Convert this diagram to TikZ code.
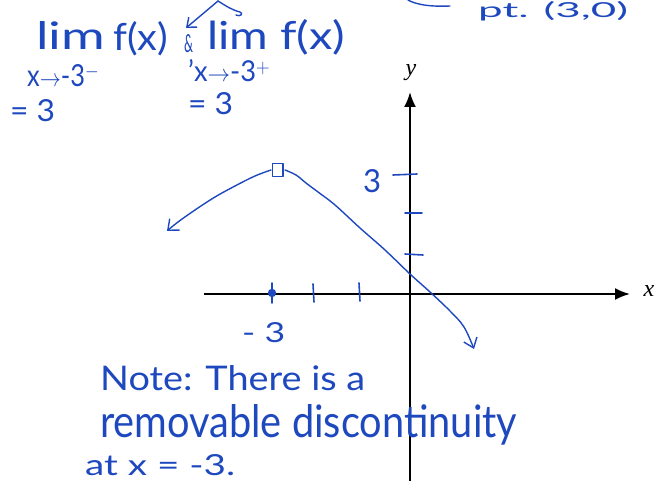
\documentclass[tikz,border=0pt]{standalone}
\usepackage{fontspec}
\setmainfont{Lato}
\newfontfamily\axisfont{Liberation Serif}
\usetikzlibrary{arrows.meta}
\definecolor{ink}{RGB}{30,72,190}
\newcommand{\hw}[3]{\resizebox{#1pt}{#2pt}{#3}}
\tikzset{
  hand/.style={text=ink, inner sep=0pt, anchor=base west, font=\fontsize{30}{32}\selectfont},
  curve/.style={draw=ink, line width=1.4pt, line cap=round, line join=round},
  axis/.style={draw=black, line width=2pt, -{Latex[length=15pt,width=12pt]}},
  tick/.style={draw=ink, line width=1.6pt, line cap=round},
  axlabel/.style={inner sep=0pt, font=\axisfont\itshape\fontsize{24}{26}\selectfont},
}
\begin{document}
\begin{tikzpicture}[x=1pt,y=-1pt]
\useasboundingbox (0,0) rectangle (659,481);
% axes
\coordinate (xl) at (204,294);
\coordinate (xr) at (630,294);
\coordinate (yb) at (410,481);
\coordinate (yt) at (410,92);
\draw[axis] (xl) -- (xr);
\draw[axis] (yb) -- (yt);
\node[axlabel, anchor=base] (xlab) at (649,297) {x};
\node[axlabel, anchor=base] (ylab) at (411,76) {y};
% ticks y
\draw[tick] (393,175) -- (417,174);
\draw[tick] (405,213) -- (422,213);
\draw[tick] (405,254) -- (423,255);
\node[hand] (three) at (363,193) {\hw{18}{23}{3}};
% ticks x
\draw[tick] (313,284) -- (314,302);
\draw[tick] (359,283) -- (360,301);
\draw[tick] (272,283) -- (272,303);
\fill[ink] (272,293) circle (4.2);
\node[hand] (mthree) at (242,343) {\hw{43}{20}{- 3}};
% open point
\draw[curve] (272.5,163.5) rectangle (283,176.5);
% left branch
\draw[curve, -{Straight Barb[length=9pt,width=15pt]}]
  plot[smooth, tension=0.6] coordinates {(271,170) (255,176) (235,186) (215,197) (195,210) (178,222) (167,231)};
% right branch
\draw[curve, -{Straight Barb[length=9pt,width=14pt]}]
  plot[smooth, tension=0.6] coordinates {(285,170) (296,175) (306,183) (318,192) (335,205) (360,228) (385,250) (410,274) (430,292) (450,311) (464,327) (474,349)};
% top-left limits
\node[hand] (lim1) at (36,50) {\hw{69}{28}{lim}};
\node[hand] (f1) at (113,51) {\hw{55}{29}{f(x)}};
\node[hand] (sub1) at (27,87) {\hw{72}{22}{x$\rightarrow$-3$^{-}$}};
\node[hand] (eq1) at (10,122) {\hw{45}{22}{= 3}};
\node[hand] (amp) at (184,53) {\hw{9}{18}{\&}};
\node[hand] (lim2) at (207,50) {\hw{138}{30}{lim f(x)}};
\node[hand] (sub2) at (188,82) {\hw{82}{22}{'x$\rightarrow$-3$^{+}$}};
\node[hand] (eq2) at (188,115) {\hw{45}{22}{= 3}};
% top arrow (cut off)
\coordinate (ta) at (218,1);
\coordinate (tb) at (186,28);
\draw[curve, -{Straight Barb[length=8pt,width=13pt]}] (ta) -- (tb);
\draw[curve] (ta) .. controls (226,6) and (232,10) .. (240,12) .. controls (244,14) and (240,17) .. (236,15);
% top right (cut off)
\draw[curve] (408,0) .. controls (415,4) and (428,7) .. (450,6);
\node[hand] (pt) at (478,18) {\hw{150}{16}{pt. (3,0)}};
% note
\node[hand] (n1) at (100,390) {\hw{265}{25}{Note: There is a}};
\node[hand] (n2) at (100,437) {\hw{417}{33}{removable discontinuity}};
\node[hand] (n3) at (85,475) {\hw{150}{21}{at x = -3.}};
\end{tikzpicture}
\end{document}
